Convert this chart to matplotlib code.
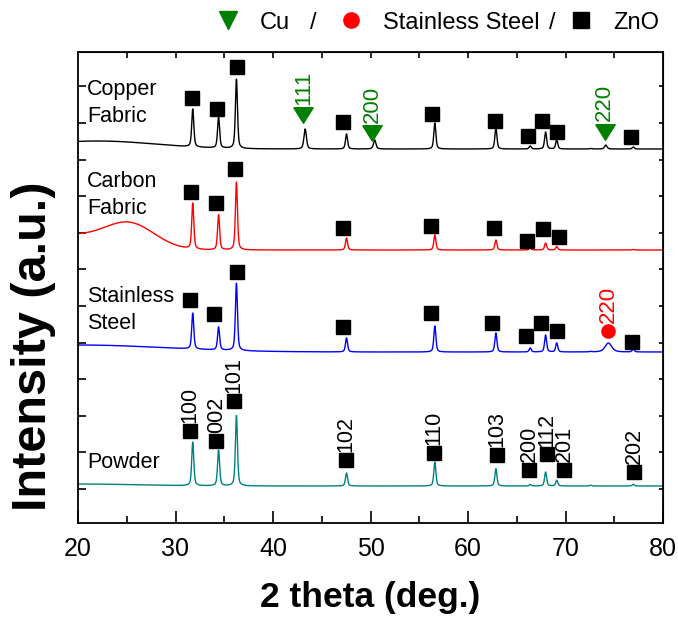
import numpy as np
import matplotlib
matplotlib.use("Agg")
import matplotlib.pyplot as plt
from matplotlib.lines import Line2D

plt.rcParams['font.family'] = ['Liberation Sans', 'DejaVu Sans']

# ---------------------------------------------------------------- data
two_theta = np.arange(20.0, 80.0001, 0.02)

# ZnO (wurtzite) reflections, deg 2-theta
zno_pos = [31.77, 34.42, 36.25, 47.54, 56.60, 62.86, 66.38, 67.96, 69.10, 72.56, 76.95]

# peak heights above the local background (a.u.)
powder_zno = [43.7, 35.7, 70.7, 13.0, 24.0, 17.3, 1.5, 14.0, 5.7, 0.8, 1.7]
steel_zno = [36.0, 23.0, 67.6, 14.0, 26.0, 19.0, 4.0, 17.0, 9.0, 0.5, 3.0]
carbon_zno = [46.0, 35.0, 68.0, 12.0, 15.0, 10.0, 2.5, 7.0, 3.5, 0.0, 0.5]
copper_zno = [38.0, 31.0, 69.5, 15.0, 26.0, 21.0, 3.0, 17.0, 9.0, 0.5, 2.0]

# substrate reflections
cu_pos = [43.30, 50.43, 74.13]
cu_height = [20.0, 9.0, 4.0]
ss_pos = [74.40]
ss_height = [9.0]

# vertical offsets of the stacked patterns
offsets = {'powder': 36.0, 'steel': 170.0, 'carbon': 272.0, 'copper': 373.0}

# broad background components: (centre, height, sigma)
background = {
    'powder': [(20.0, 2.0, 6.0)],
    'steel': [(20.0, 7.0, 9.0)],
    'carbon': [(25.3, 25.0, 2.6), (18.0, 15.0, 4.0)],
    'copper': [(22.0, 8.0, 6.0)],
}

# marker positions for the phase identification symbols
copper_sq_x = [31.66, 34.23, 36.28, 47.21, 56.28, 62.77, 66.12, 67.62, 69.16, 76.72]
copper_sq_y = [424.3, 413.0, 454.7, 400.3, 408.0, 401.3, 386.3, 401.3, 389.7, 384.7]
copper_cu_x = [43.12, 50.15, 74.00]
copper_cu_y = [407.0, 389.0, 390.3]
copper_cu_hkl = ['111', '200', '220']

carbon_sq_x = [31.56, 34.12, 36.10, 47.15, 56.17, 62.67, 66.08, 67.66, 69.30]
carbon_sq_y = [330.3, 318.7, 353.0, 293.7, 296.3, 294.3, 281.3, 292.7, 285.3]

steel_sq_x = [31.49, 33.98, 36.28, 47.21, 56.21, 62.43, 65.92, 67.46, 69.10, 76.85]
steel_sq_y = [222.0, 207.7, 250.3, 195.3, 208.7, 198.7, 186.3, 199.3, 191.3, 179.7]
steel_ss_x = [74.39]
steel_ss_y = [191.0]
steel_ss_hkl = ['220']

powder_sq_x = [31.50, 34.18, 35.98, 47.50, 56.50, 62.97, 66.30, 68.06, 69.86, 77.07]
powder_sq_y = [91.3, 81.3, 121.3, 62.0, 69.3, 67.0, 52.0, 67.7, 52.0, 50.3]
powder_hkl = ['100', '002', '101', '102', '110', '103', '200', '112', '201', '202']

sample_names = {
    'copper': ('Copper', 'Fabric'),
    'carbon': ('Carbon', 'Fabric'),
    'steel': ('Stainless', 'Steel'),
    'powder': ('Powder',),
}
name_y = {'copper': 427.0, 'carbon': 335.0, 'steel': 220.0, 'powder': 54.0}

legend_labels = ['Cu', 'Stainless Steel', 'ZnO']

# ---------------------------------------------------------------- model
def pseudo_voigt(x, x0, h, w, eta=0.5):
    d2 = 4.0 * (x - x0) ** 2 / w ** 2
    return h * (eta / (1.0 + d2) + (1 - eta) * np.exp(-np.log(2) * d2))


def pattern(key, peaks):
    y = np.full_like(two_theta, offsets[key])
    for c, h, s in background[key]:
        y += h * np.exp(-(two_theta - c) ** 2 / (2 * s ** 2))
    for pos, hts, w in peaks:
        for p, h in zip(pos, hts):
            y += pseudo_voigt(two_theta, p, h, w)
    return y


curves = {
    'powder': pattern('powder', [(zno_pos, powder_zno, 0.25)]),
    'steel': pattern('steel', [(zno_pos, steel_zno, 0.25), (ss_pos, ss_height, 0.8)]),
    'carbon': pattern('carbon', [(zno_pos, carbon_zno, 0.25)]),
    'copper': pattern('copper', [(zno_pos, copper_zno, 0.25), (cu_pos, cu_height, 0.3)]),
}
colors = {'powder': '#008080', 'steel': '#0000ff', 'carbon': '#ff0000', 'copper': '#000000'}
green = '#008000'

# ---------------------------------------------------------------- figure
W, H = 678, 618
fig = plt.figure(figsize=(W / 100, H / 100), dpi=100)
ax = fig.add_axes([78 / W, 1 - 523 / H, 585 / W, 471 / H])

for key in ['powder', 'steel', 'carbon', 'copper']:
    ax.plot(two_theta, curves[key], color=colors[key], lw=1.0)

tri = [(-1.0, 0.8), (1.0, 0.8), (0.0, -0.8), (-1.0, 0.8)]
sq_kw = dict(marker='s', ms=10, color='black', ls='none')

ax.plot(copper_sq_x, copper_sq_y, **sq_kw)
ax.plot(carbon_sq_x, carbon_sq_y, **sq_kw)
ax.plot(steel_sq_x, steel_sq_y, **sq_kw)
ax.plot(powder_sq_x, powder_sq_y, **sq_kw)
ax.plot(copper_cu_x, copper_cu_y, marker=tri, ms=14, color=green, ls='none')
ax.plot(steel_ss_x, steel_ss_y, marker='o', ms=9.5, color='#ff0000', ls='none')

lab_kw = dict(textcoords='offset points', rotation=90, ha='center', va='bottom')
for x, y, t in zip(copper_cu_x, copper_cu_y, copper_cu_hkl):
    ax.annotate(t, (x, y), xytext=(0, 7.5), color=green, fontsize=16, **lab_kw)
for x, y, t in zip(steel_ss_x, steel_ss_y, steel_ss_hkl):
    ax.annotate(t, (x, y), xytext=(0, 6), color='#ff0000', fontsize=16, **lab_kw)
for x, y, t in zip(powder_sq_x, powder_sq_y, powder_hkl):
    ax.annotate(t, (x, y), xytext=(0, 5.5), color='black', fontsize=15.5, **lab_kw)

for key, lines in sample_names.items():
    for i, line in enumerate(lines):
        ax.text(20.93, name_y[key] - 27 * i, line, fontsize=15.5, ha='left', va='baseline')

ax.set_xlim(20, 80)
ax.set_ylim(-1, 470)
ax.set_xticks(np.arange(20, 81, 10))
ax.set_xticks(np.arange(25, 80, 10), minor=True)
ax.set_yticks(np.arange(33, 440, 36.6))
ax.tick_params(axis='x', which='major', direction='in', length=9, width=1.2, labelsize=18, pad=10)
ax.tick_params(axis='x', which='minor', direction='in', length=5, width=1.2)
ax.tick_params(axis='y', direction='in', length=6, width=1.2, labelleft=False)
for sp in ax.spines.values():
    sp.set_linewidth(1.3)

top = ax.secondary_xaxis('top')
top.set_xticks(np.arange(25, 80, 5))
top.tick_params(direction='in', length=4, width=1.2, labeltop=False)
right = ax.secondary_yaxis('right')
right.set_yticks(np.arange(33, 440, 36.6))
right.tick_params(direction='in', length=3, width=1.2, labelright=False)

ax.set_xlabel('2 theta (deg.)', fontsize=25.5, fontweight='bold')
ax.xaxis.label.set_va('baseline')
ax.xaxis.set_label_coords(0.5, (523 - 606.7) / 471)

ylab = ax.set_ylabel('Intensity (a.u.)', fontsize=30, fontweight='bold',
                     ha='center', va='center', rotation_mode='default')
ax.yaxis.set_label_coords((34 - 78) / 585, (523 - 346) / 471)

# size the vertical title so it spans about 330 px
renderer = fig.canvas.get_renderer()
ext = ylab.get_window_extent(renderer)
ylab.set_fontsize(30 * 330.0 / ext.height)

# phase key above the frame
def fx(px):
    return px / W


def fy(py):
    return 1 - py / H


fig.add_artist(Line2D([fx(228.3)], [fy(19.5)], marker='v', ms=13, color=green, ls='none'))
fig.add_artist(Line2D([fx(350.7)], [fy(20.0)], marker='o', ms=11, color='#ff0000', ls='none'))
fig.add_artist(Line2D([fx(580.8)], [fy(20.0)], marker='s', ms=11, color='black', ls='none'))
key_kw = dict(fontsize=17, va='baseline')
fig.text(fx(260), fy(29.3), legend_labels[0], ha='left', **key_kw)
fig.text(fx(313), fy(29.3), '/', ha='center', **key_kw)
fig.text(fx(383.3), fy(29.3), legend_labels[1], ha='left', **key_kw)
fig.text(fx(552), fy(29.3), '/', ha='center', **key_kw)
fig.text(fx(613), fy(29.3), legend_labels[2], ha='left', **key_kw)

fig.savefig('out.png', dpi=100)
